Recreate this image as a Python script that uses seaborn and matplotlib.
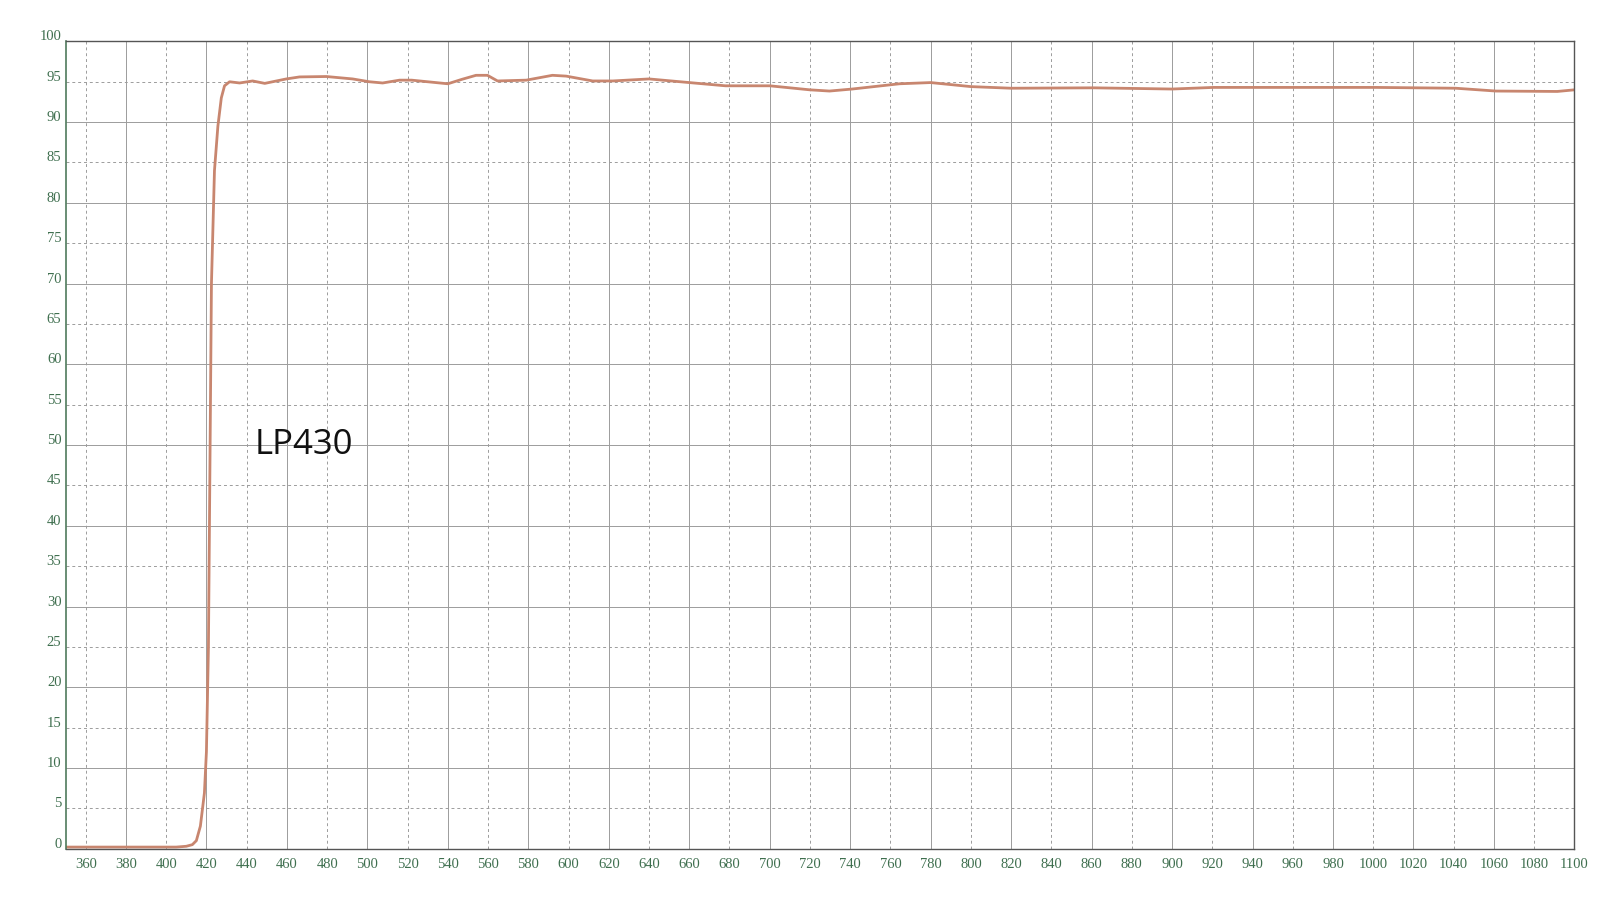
import matplotlib
matplotlib.use("Agg")
import matplotlib.pyplot as plt
import matplotlib.transforms as mtransforms
import seaborn as sns

# ==========================================
# DATA
# ==========================================

wavelength = [350, 370, 390, 405, 410, 413, 415, 417, 419, 420, 421, 421.5,
              422.5, 424, 425.7, 427.4, 429, 431.5, 436.5, 443, 449,
              459.7, 466.3, 479.6, 492.7, 501, 507.6, 516, 522, 530, 540,
              547, 554, 559.7, 564.7, 579, 592, 598.8, 612, 622, 640, 660,
              678, 700, 720, 729.7, 741, 764.5, 780, 800, 820, 861, 900,
              920.6, 961.6, 1001.5, 1041, 1061, 1091.5, 1100]
transmission = [0.2, 0.2, 0.2, 0.2, 0.3, 0.5, 1.0, 2.8, 6.9, 12, 25, 40,
                70, 84, 89.5, 93.0, 94.5, 95.0, 94.85, 95.1, 94.8,
                95.35, 95.6, 95.65, 95.35, 95.0, 94.85, 95.2, 95.2, 95.0, 94.75,
                95.3, 95.8, 95.8, 95.1, 95.2, 95.8, 95.7, 95.1, 95.1, 95.35, 94.9,
                94.5, 94.5, 94.0, 93.85, 94.1, 94.75, 94.9, 94.4, 94.2, 94.25, 94.1,
                94.3, 94.3, 94.3, 94.2, 93.85, 93.8, 94.0]

x_ticks = list(range(360, 1101, 20))
y_ticks = list(range(0, 101, 5))
label = "LP430"

# ==========================================
# PLOT
# ==========================================

sns.set_style("white")

fig = plt.figure(figsize=(16, 9), dpi=100)
ax = fig.add_axes([0.041, 0.057, 0.943, 0.897])

sns.lineplot(x=wavelength, y=transmission, ax=ax, color="#c8866f",
             linewidth=2.0, sort=False)

ax.set_xlim(350, 1100)
ax.set_ylim(0, 100)
ax.set_xticks(x_ticks)
ax.set_yticks(y_ticks)
ax.set_xticklabels([str(v) for v in x_ticks])
ax.set_yticklabels([str(v) for v in y_ticks])

tick_color = "#3f6f4f"
ax.tick_params(axis="both", length=0, labelsize=10.5, colors=tick_color)
ax.tick_params(axis="x", pad=7)
ax.tick_params(axis="y", pad=3)
for t in ax.get_xticklabels() + ax.get_yticklabels():
    t.set_family("Liberation Serif")

# y labels sit a little above their grid line
offset = mtransforms.ScaledTranslation(0, 6 / 100, fig.dpi_scale_trans)
for t in ax.get_yticklabels():
    t.set_transform(t.get_transform() + offset)

# grid: solid / dashed alternating like the scanned chart paper
ax.grid(True, color="#9c9c9c", linewidth=0.7)
for i, gl in enumerate(ax.xaxis.get_gridlines()):
    if i % 2 == 0:
        gl.set_linestyle((0, (3, 3)))
for v, gl in zip(y_ticks, ax.yaxis.get_gridlines()):
    if v % 10 == 5:
        gl.set_linestyle((0, (3, 3)))

for side in ["top", "right", "bottom"]:
    ax.spines[side].set_color("#555555")
    ax.spines[side].set_linewidth(1.0)
ax.spines["left"].set_color("#4f7a5c")
ax.spines["left"].set_linewidth(1.2)

ax.text(444, 50, label, fontsize=25, family=["Open Sans", "DejaVu Sans"],
        color="#111111", va="center", ha="left")

fig.savefig("out.png", dpi=100, facecolor="white")
plt.close(fig)
